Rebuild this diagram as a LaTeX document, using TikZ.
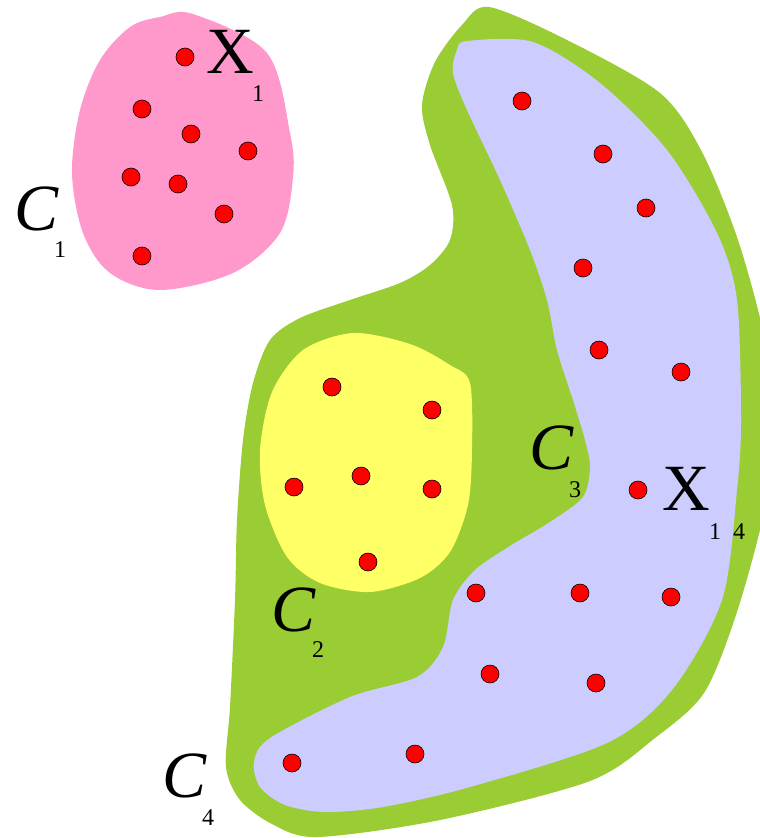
\documentclass[tikz,border=0pt]{standalone}
\usepackage{fontspec}
\setmainfont{Liberation Serif}
\definecolor{pinkc}{RGB}{255,153,204}
\definecolor{greenc}{RGB}{154,204,51}
\definecolor{lavc}{RGB}{204,204,255}
\definecolor{yelc}{RGB}{255,255,102}
\tikzset{
  dot/.style={circle,draw=black,line width=0.6pt,fill=red,minimum size=18pt,inner sep=0pt},
  bigC/.style={inner sep=0pt,font=\fontsize{66}{66}\selectfont\itshape},
  bigX/.style={inner sep=0pt,font=\fontsize{66}{66}\selectfont},
  subs/.style={inner sep=0pt,font=\fontsize{24}{24}\selectfont}
}
\begin{document}
\begin{tikzpicture}[x=1pt,y=-1pt]
\useasboundingbox (0,0) rectangle (760,838);
\clip (0,0) rectangle (760,838);
% C1 pink
\fill[pinkc] plot[smooth cycle,tension=0.55] coordinates{(193,14) (267,53) (290,133) (293,177) (280,233) (233,273) (160,290) (110,273) (83,233) (72,173) (80,110) (100,60) (130,27) (160,17)};
% C4 green
\fill[greenc] plot[smooth cycle,tension=0.5] coordinates{(489,7) (567,40) (660,93) (702,152) (738,240) (765,340) (776,430) (763,517) (736,615) (704,693) (655,738) (590,781) (440,820) (317,837) (272,824) (240,800) (226,767) (230,707) (235,600) (237,520) (243,440) (253,383) (270,340) (300,318) (350,300) (400,283) (430,265) (450,240) (452,205) (430,145) (422,105) (435,62) (462,25)};
% C3 lavender
\fill[lavc] plot[smooth cycle,tension=0.5] coordinates{(467,41) (533,42) (600,83) (667,150) (717,233) (737,300) (741,420) (737,490) (722,600) (672,690) (607,743) (470,787) (383,807) (325,812) (285,805) (260,787) (254,762) (270,738) (350,697) (417,677) (443,647) (453,600) (475,570) (510,546) (550,522) (583,497) (590,467) (585,440) (573,400) (557,350) (547,300) (530,250) (500,180) (467,110) (453,73) (457,50)};
% C2 yellow
\fill[yelc] plot[smooth cycle,tension=0.5] coordinates{(353,333) (410,344) (450,365) (470,383) (472,450) (468,505) (450,552) (420,578) (370,592) (320,583) (287,557) (265,505) (260,450) (272,392) (303,350)};
% dots
\foreach \n/\x/\y in {a1/185/57,a2/142/109,a3/191/134,a4/248/151,a5/131/177,a6/178/184,a7/224/214,a8/142/256,
  b1/332/387,b2/432/410,b3/294/487,b4/361/476,b5/432/489,b6/368/562,
  c1/522/101,c2/603/154,c3/646/208,c4/583/268,c5/599/350,c6/681/372,c7/638/490,c8/476/593,c9/580/593,c10/671/597,c11/490/674,c12/596/683,c13/292/763,c14/415/754}
  \node[dot] (\n) at (\x,\y) {};
% labels
\node[bigC] (C1) at (37,209) {C};
\node[subs] (C1s) at (60,250) {1};
\node[bigX] (X1) at (230,52) {X};
\node[subs] (X1s) at (258,94) {1};
\node[bigC] (C2) at (294,610) {C};
\node[subs] (C2s) at (318,650) {2};
\node[bigC] (C3) at (552,448) {C};
\node[subs] (C3s) at (575,490) {3};
\node[bigC] (C4) at (185,776) {C};
\node[subs] (C4s) at (208,818) {4};
\node[bigX] (X14) at (686,489) {X};
\node[subs] (X14a) at (715,532) {1};
\node[subs] (X14b) at (739,532) {4};
\end{tikzpicture}
\end{document}
